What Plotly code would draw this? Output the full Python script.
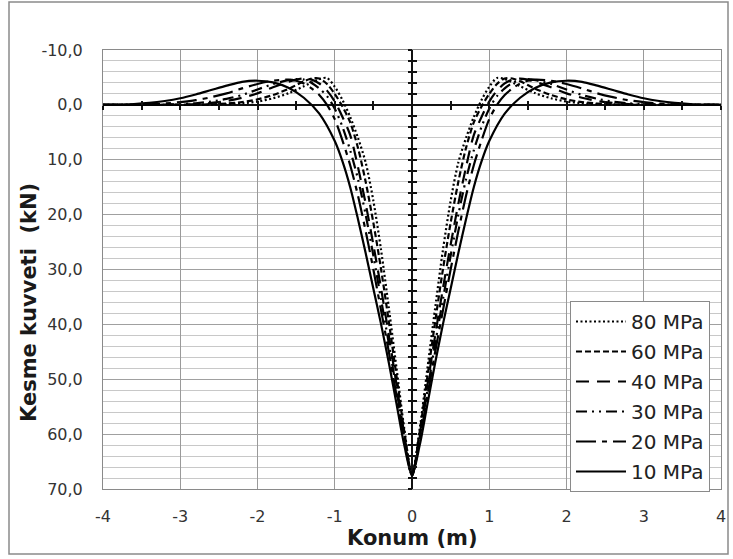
import plotly.graph_objects as go

# ---- data (half curves, x >= 0; curve is symmetric about x = 0) ----
x_10 = [0, 0.1, 0.2, 0.3, 0.4, 0.5, 0.6, 0.7, 0.8, 0.9, 1.0, 1.2, 1.4, 1.6, 1.8, 2.0, 2.2, 2.4, 2.6, 2.8, 3.0, 3.2, 3.4, 3.6, 3.8, 4.0]
v_10 = [67.5, 62, 54.5, 47, 40, 33.5, 27, 20.8, 15, 10.3, 6.6, 1.6, -1.3, -3.1, -4.1, -4.4, -4.2, -3.5, -2.7, -1.9, -1.2, -0.7, -0.35, -0.15, -0.05, 0]

x_20 = [0, 0.1, 0.2, 0.3, 0.4, 0.5, 0.6, 0.7, 0.8, 0.9, 1.0, 1.1, 1.2, 1.3, 1.4, 1.5, 1.6, 1.8, 2.0, 2.2, 2.4, 2.6, 2.8, 3.0, 3.2, 3.4, 3.6, 4.0]
v_20 = [67.5, 61, 53, 45, 37.5, 30, 23, 16.5, 11, 6.5, 2.6, 0, -1.8, -3.0, -3.9, -4.4, -4.6, -4.4, -3.8, -3.0, -2.1, -1.4, -0.85, -0.5, -0.25, -0.1, 0, 0]

x_30 = [0, 0.1, 0.2, 0.3, 0.4, 0.5, 0.6, 0.7, 0.8, 0.9, 1.0, 1.1, 1.2, 1.3, 1.4, 1.5, 1.6, 1.8, 2.0, 2.2, 2.4, 2.6, 2.8, 3.0, 3.4, 4.0]
v_30 = [67.5, 60.5, 52, 43.5, 35.5, 27.5, 20, 13.5, 8.3, 4, 0.7, -1.6, -3.0, -4.0, -4.6, -4.7, -4.5, -3.8, -2.8, -1.8, -1.1, -0.6, -0.3, -0.15, 0, 0]

x_40 = [0, 0.1, 0.2, 0.3, 0.4, 0.5, 0.6, 0.7, 0.8, 0.9, 1.0, 1.1, 1.2, 1.3, 1.4, 1.5, 1.6, 1.8, 2.0, 2.2, 2.4, 2.6, 2.8, 3.0, 4.0]
v_40 = [67.5, 60, 51, 42, 33.5, 25.5, 18, 11.3, 5.5, 2.2, -0.6, -2.6, -3.9, -4.6, -4.8, -4.6, -4.2, -3.2, -2.1, -1.3, -0.7, -0.35, -0.15, -0.05, 0]

x_60 = [0, 0.1, 0.2, 0.3, 0.4, 0.5, 0.6, 0.7, 0.8, 0.9, 1.0, 1.1, 1.2, 1.3, 1.4, 1.6, 1.8, 2.0, 2.2, 2.4, 2.6, 3.0, 4.0]
v_60 = [67.5, 59.5, 49.5, 39.5, 30, 21.5, 14, 7.8, 3.2, 0.3, -2.0, -3.8, -4.8, -4.8, -4.3, -2.9, -1.8, -1.0, -0.5, -0.25, -0.1, 0, 0]

x_80 = [0, 0.1, 0.2, 0.3, 0.4, 0.5, 0.6, 0.7, 0.8, 0.9, 1.0, 1.1, 1.2, 1.4, 1.6, 1.8, 2.0, 2.2, 2.4, 2.6, 3.0, 4.0]
v_80 = [67.5, 59, 48, 37, 26.5, 17.5, 10.5, 6.0, 2.2, -0.9, -3.3, -4.9, -4.7, -3.4, -2.1, -1.2, -0.6, -0.3, -0.15, -0.05, 0, 0]

series_names = ["80 MPa", "60 MPa", "40 MPa", "30 MPa", "20 MPa", "10 MPa"]
series_x = [x_80, x_60, x_40, x_30, x_20, x_10]
series_v = [v_80, v_60, v_40, v_30, v_20, v_10]
dashes = ["2px,2.5px", "6px,3px", "13px,8px", "11px,5px,2px,5px,2px,5px", "20px,6px,5px,6px", "solid"]

x_ticks = [-4, -3, -2, -1, 0, 1, 2, 3, 4]
x_ticktext = ["-4", "-3", "-2", "-1", "0", "1", "2", "3", "4"]
y_ticks = [-10, 0, 10, 20, 30, 40, 50, 60, 70]
y_ticktext = ["-10,0", "0,0", "10,0", "20,0", "30,0", "40,0", "50,0", "60,0", "70,0"]
x_title = "Konum (m)"
y_title = "Kesme kuvveti  (kN)"


def full(xs, vs):
    xl = [-a for a in reversed(xs[1:])] + list(xs)
    vl = list(reversed(vs[1:])) + list(vs)
    return xl, vl


W, H = 733, 559
L, R, T, B = 103, 721, 50, 489   # plot area in pixels
pw, ph = R - L, B - T


def px(xp):
    return (xp - L) / pw


def py(yp):
    return (B - yp) / ph


fig = go.Figure()
for name, xs, vs, d in zip(series_names, series_x, series_v, dashes):
    xl, vl = full(xs, vs)
    fig.add_trace(go.Scatter(
        x=xl, y=vl, mode="lines", name=name, legendgroup=name,
        line=dict(color="black", width=2.2, dash=d, shape="spline", smoothing=0.8),
    ))

# invisible traces to bind the overlay axes used for the crossing tick marks
for xa, ya in [("x2", "y"), ("x3", "y"), ("x", "y2"), ("x", "y3")]:
    fig.add_trace(go.Scatter(x=[0], y=[0], xaxis=xa, yaxis=ya, mode="markers",
                             marker=dict(opacity=0), showlegend=False, hoverinfo="skip"))

ff = "DejaVu Sans, Verdana, sans-serif"
xr = [-4, 4]
yr = [70, -10]
y0_frac = (yr[0] - 0) / (yr[0] - yr[1])
x0_frac = (0 - xr[0]) / (xr[1] - xr[0])

overlay_common = dict(showticklabels=False, showgrid=False, zeroline=False, showline=False,
                      ticklen=4, tickwidth=1.5, tickcolor="#111", anchor="free")

fig.update_layout(
    width=W, height=H,
    margin=dict(l=L, r=W - R, t=T, b=H - B, pad=0, autoexpand=False),
    paper_bgcolor="white", plot_bgcolor="white",
    font=dict(family=ff, color="#222"),
    showlegend=True,
    legend=dict(
        x=px(570), y=py(301), xanchor="left", yanchor="top",
        bgcolor="white", bordercolor="#8a8a8a", borderwidth=1,
        font=dict(size=20, color="#222", family=ff),
        itemwidth=50, tracegroupgap=1,
    ),
    xaxis=dict(
        range=xr, tickmode="array", tickvals=x_ticks, ticktext=x_ticktext,
        showgrid=True, gridcolor="#9a9a9a", gridwidth=1,
        zeroline=True, zerolinecolor="#111", zerolinewidth=2,
        showline=True, linecolor="#8a8a8a", linewidth=1, mirror=True,
        ticks="outside", ticklen=13, tickcolor="rgba(0,0,0,0)",
        tickfont=dict(size=16, color="#333"), automargin=False,
    ),
    yaxis=dict(
        range=yr, tickmode="array", tickvals=y_ticks, ticktext=y_ticktext,
        showgrid=True, gridcolor="#a0a0a0", gridwidth=1,
        minor=dict(tickmode="linear", tick0=0, dtick=2, showgrid=True, gridcolor="#c8c8c8", gridwidth=1, ticks=""),
        zeroline=True, zerolinecolor="#111", zerolinewidth=2,
        showline=True, linecolor="#8a8a8a", linewidth=1, mirror=True,
        ticks="outside", ticklen=16, tickcolor="rgba(0,0,0,0)",
        tickfont=dict(size=16, color="#333"), automargin=False,
    ),
    xaxis2=dict(overlaying="x", matches="x", position=y0_frac, tickmode="linear", tick0=0, dtick=0.5,
                ticks="outside", automargin=False, **overlay_common),
    xaxis3=dict(overlaying="x", matches="x", position=y0_frac, tickmode="linear", tick0=0, dtick=0.5,
                ticks="inside", automargin=False, **overlay_common),
    yaxis2=dict(overlaying="y", matches="y", position=x0_frac, tickmode="linear", tick0=0, dtick=2,
                ticks="outside", automargin=False, **overlay_common),
    yaxis3=dict(overlaying="y", matches="y", position=x0_frac, tickmode="linear", tick0=0, dtick=2,
                ticks="inside", automargin=False, **overlay_common),
)

# axis titles
fig.add_annotation(text="<b>" + x_title + "</b>", xref="paper", yref="paper",
                   x=px(412), y=py(538), xanchor="center", yanchor="middle", showarrow=False,
                   font=dict(size=21, color="#1a1a1a", family=ff))
fig.add_annotation(text="<b>" + y_title + "</b>", xref="paper", yref="paper",
                   x=px(29), y=py(303), xanchor="center", yanchor="middle", showarrow=False,
                   textangle=-90, font=dict(size=21, color="#1a1a1a", family=ff))

# outer chart border
fig.add_shape(type="rect", xref="paper", yref="paper",
              x0=px(9), x1=px(728), y0=py(554), y1=py(2),
              line=dict(color="#8a8a8a", width=1.5), layer="below")

fig.write_html("out.html", config={"displayModeBar": False},
               post_script="document.body.style.margin='0';document.body.style.padding='0';document.body.style.overflow='hidden';")
